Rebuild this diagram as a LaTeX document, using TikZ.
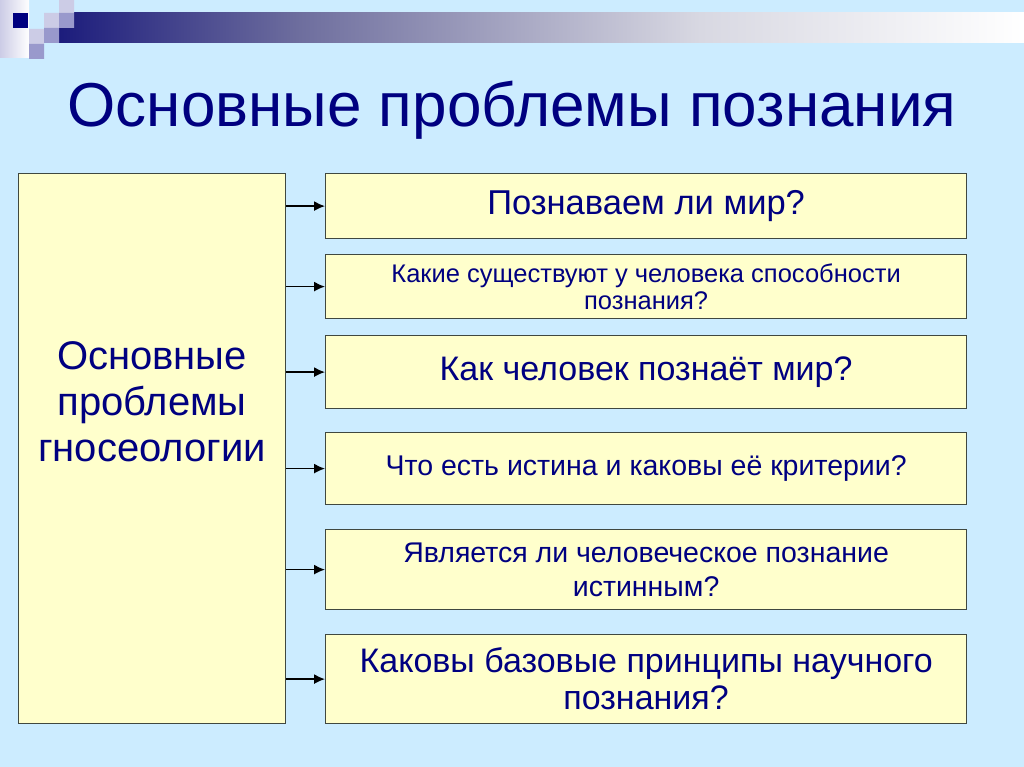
\documentclass[tikz,border=0pt]{standalone}
\usepackage{fontspec}
\setmainfont{Liberation Sans}
\usetikzlibrary{arrows.meta}
\definecolor{slidebg}{RGB}{204,236,255}
\definecolor{boxfill}{RGB}{255,255,204}
\definecolor{boxline}{RGB}{64,72,64}
\definecolor{navytext}{RGB}{0,0,128}
\definecolor{palelav}{RGB}{204,204,230}
\definecolor{midlav}{RGB}{153,153,204}
\definecolor{barA}{RGB}{28,28,124}
\definecolor{barB}{RGB}{110,110,158}
\definecolor{barC}{RGB}{216,216,226}
\newcommand{\fs}[2]{\fontsize{#1}{#2}\selectfont}

\tikzset{
  qbox/.style={draw=boxline, line width=1.2pt, fill=boxfill, text=navytext,
    align=center, anchor=north west, minimum width=641pt, inner sep=0pt},
  bigbox/.style={qbox, minimum width=267pt},
  arr/.style={-{Latex[length=11pt,width=10pt]}, line width=1.5pt},
}

\begin{document}
\begin{tikzpicture}[x=1pt,y=-1pt]
  % Background and header strip
  \fill[slidebg] (0,0) rectangle (1024,767);
  \useasboundingbox (0,0) rectangle (1024,767);
  \shade[left color=palelav, right color=white] (0,0) rectangle (29,58);
  \shade[left color=barA, right color=barB] (59,13) rectangle (300,43);
  \shade[left color=barB, right color=barC] (300,13) rectangle (700,43);
  \shade[left color=barC, right color=white] (700,13) rectangle (1024,43);
  \fill[navytext] (13,13) rectangle (28,28);
  \fill[palelav] (29,29) rectangle (44,44) (44,13) rectangle (59,28) (59,0) rectangle (74,13);
  \fill[midlav] (29,44) rectangle (44,59) (44,28) rectangle (59,43) (59,13) rectangle (74,28);

  % Define nodes
  \node[font=\fs{62}{74}, text=navytext, anchor=base] (title) at (512,127) {Основные проблемы познания};
  \node[bigbox, minimum height=550pt, font=\fs{40}{46}] (gno) at (18,173)
    {\raisebox{42pt}[\height][\depth]{\begin{tabular}{@{}c@{}}Основные\\проблемы\\гносеологии\end{tabular}}};
  \node[qbox, minimum height=65pt, font=\fs{34.5}{40}] (q1) at (325,173) {Познаваем ли мир?};
  \node[qbox, minimum height=64pt, font=\fs{25.5}{27}] (q2) at (325,254) {Какие существуют у человека способности\\познания?};
  \node[qbox, minimum height=73pt, font=\fs{34}{40}] (q3) at (325,335) {Как человек познаёт мир?};
  \node[qbox, minimum height=72pt, font=\fs{28.5}{34}] (q4) at (325,432) {Что есть истина и каковы её критерии?};
  \node[qbox, minimum height=80pt, font=\fs{28.5}{34}] (q5) at (325,529) {Является ли человеческое познание\\истинным?};
  \node[qbox, minimum height=89pt, font=\fs{34}{37}] (q6) at (325,634) {Каковы базовые принципы научного\\познания?};

  % Connect the nodes
  \foreach \q in {q1,q2,q3,q4,q5,q6}
    \draw[arr] (gno.east |- \q.west) -- (\q.west);
\end{tikzpicture}
\end{document}
